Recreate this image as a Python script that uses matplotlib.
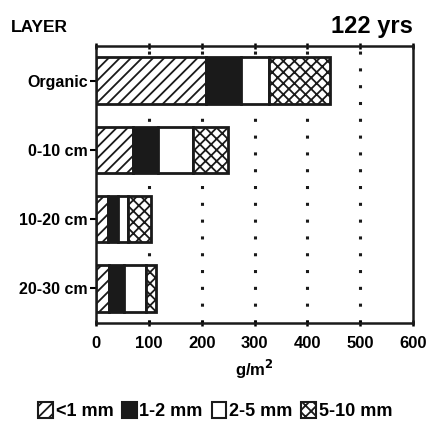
import numpy as np
import matplotlib.pyplot as plt
from matplotlib.patches import Patch

plt.rcParams['font.family'] = ['Liberation Sans', 'DejaVu Sans']
plt.rcParams['font.weight'] = 'bold'
plt.rcParams['hatch.linewidth'] = 1.3

layers = ['Organic', '0-10 cm', '10-20 cm', '20-30 cm']
sizes = ['<1 mm', '1-2 mm', '2-5 mm', '5-10 mm']

# root mass per size class (g/m2)
lt1 = [208, 69, 23, 25]
mm12 = [66, 48, 19, 28]
mm25 = [54, 67, 19, 42]
mm510 = [115, 65, 42, 18]

series = [lt1, mm12, mm25, mm510]
faces = ['white', '#1a1a1a', 'white', 'white']
hatches = ['///', '', '', 'xxx']

fig = plt.figure(figsize=(4.33, 4.25), dpi=100)
ax = fig.add_axes([0.222, 0.24, 0.732, 0.652])

y = np.arange(len(layers))
left = np.zeros(len(layers))
for vals, fc, h in zip(series, faces, hatches):
    ax.barh(y, vals, left=left, height=0.67, color=fc, hatch=h,
            edgecolor='#1a1a1a', linewidth=2, zorder=3)
    left += np.array(vals)

for gx in range(100, 600, 100):
    ax.axvline(gx, color='#1a1a1a', linestyle=(0, (1, 4.5)), linewidth=2.2, zorder=1)

ax.set_xlim(0, 600)
ax.set_ylim(3.5, -0.5)
ax.set_yticks(y)
ax.set_yticklabels(layers, fontsize=11.5, fontweight='bold')
ax.set_xticks(range(0, 700, 100))
ax.tick_params(axis='x', direction='inout', length=5, width=1.8, labelsize=12,
               top=True, pad=7)
ax.tick_params(axis='y', direction='out', length=4, width=1.5, pad=2)
for s in ax.spines.values():
    s.set_linewidth(1.8)
    s.set_color('#1a1a1a')
ax.set_xlabel('g/m$^\\mathbf{2}$', fontsize=12, fontweight='bold', labelpad=5)

fig.text(0.025, 0.925, 'LAYER', fontsize=12.5, fontweight='bold')
fig.text(0.953, 0.922, '122 yrs', fontsize=17, fontweight='bold', ha='right')

handles = [Patch(facecolor=fc, hatch=h, edgecolor='#1a1a1a', linewidth=1.5)
           for fc, h in zip(faces, hatches)]
fig.legend(handles, sizes, loc='center', bbox_to_anchor=(0.497, 0.033), ncol=4,
           frameon=False, handlelength=0.8, handleheight=0.95, handletextpad=0.15,
           columnspacing=0.5, prop={'size': 13, 'weight': 'bold'})

fig.savefig('out.png', dpi=100)
